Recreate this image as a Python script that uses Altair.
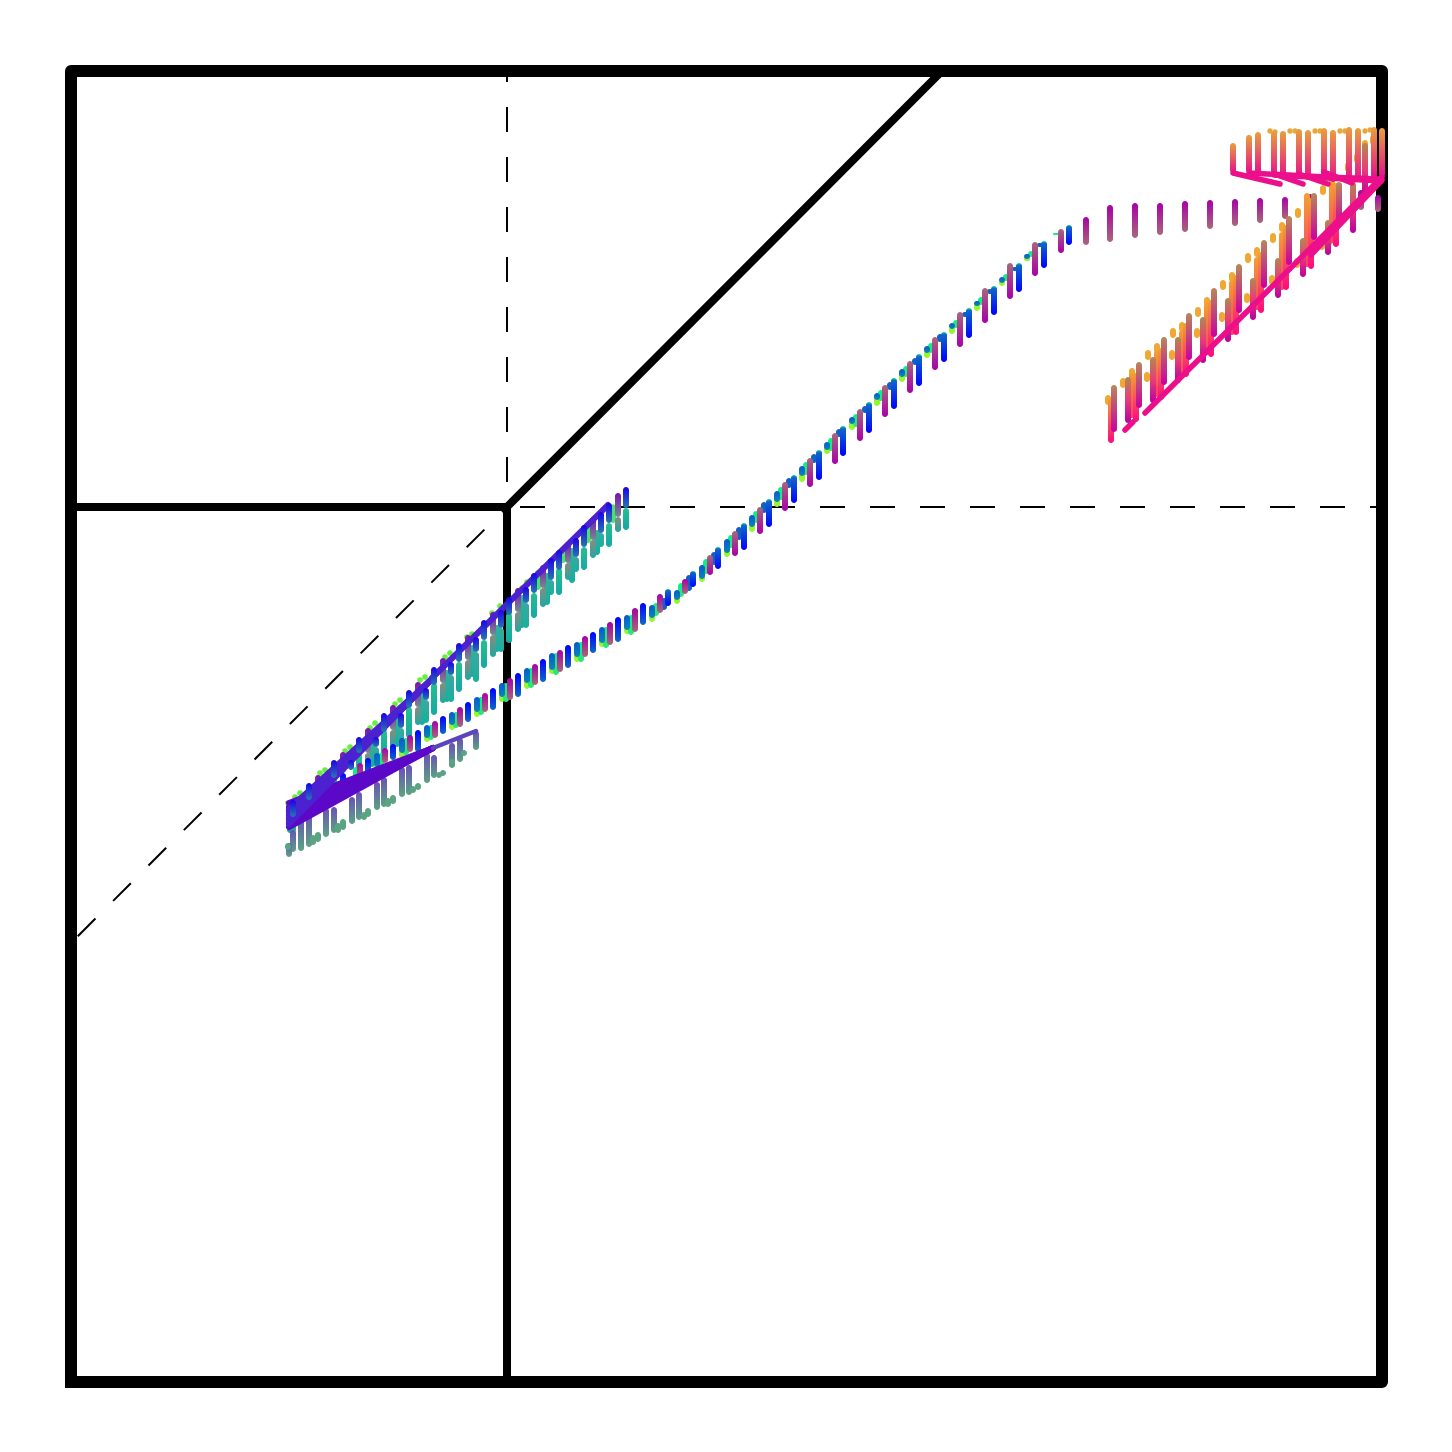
import altair as alt
import pandas as pd

SIDE = 1311
# ---------- middle curve ----------
blue_x = [998,973,948,923,898,873,848,823,798,772,748,723,698,673,647,622,597]
blue_top = [1157,1141,1119,1096,1074,1050,1028,1004,980,956,932,907,883,859,835,811,793]
blue_bot = [1137,1114,1090,1067,1044,1020,996,973,949,926,902,879,855,832,813,795,776]
blue2_x = [572,547,522,497,472,447,422,397,372,347,322,297,272,247]
blue2_top = [779,765,750,737,723,709,694,680,666,652,638,624,609,596]
blue2_bot = [757,740,729,714,700,685,672,660,648,630,622,609,594,580]
pur_x = [990,964,939,914,889,864,839,814,789,764,739,714,689,664,639]
pur_top = [1153,1140,1119,1094,1070,1045,1021,997,973,949,924,900,875,851,827]
pur_bot = [1129,1106,1083,1059,1035,1012,989,965,941,918,895,871,848,826,807]
pur2_x = [1307,1290,1265,1239,1214,1189,1164,1139,1114,1089,1064,1039,1015,614,589,564,539,514,489,464,439,414,389,364,339,314,289]
pur2_top = [1187,1192,1188,1188,1185,1184,1183,1182,1181,1179,1179,1177,1165,803,788,774,760,746,732,718,704,689,675,661,647,634,619]
pur2_bot = [1170,1172,1170,1166,1163,1159,1156,1153,1150,1147,1144,1140,1137,788,769,750,737,725,710,697,682,670,655,644,630,619,604]
green_x = [985,960,935,910,885,860,835,810,785,760,735,710,685,660,635,610,585,560,535,510,485,460,435,410,385,360,335,310,285]
green_top = [1149,1131,1108,1085,1062,1039,1016,992,968,944,920,895,871,847,823,799,779,767,755,740,729,714,699,685,670,657,644,629,615]
green_bot = [1147,1125,1101,1077,1054,1029,1005,981,955,931,907,882,859,834,808,785,766,747,734,720,707,694,680,667,654,642,627,614,602]
lime_x = [956,931,906,881,856,831,806,781,756,731,706,681,656,631,606,581,556,531,506,481,456,431,406,381,356,331,306]
lime_top = [1125,1102,1079,1056,1033,1010,986,962,938,912,888,863,838,813,790,775,765,752,738,725,712,697,683,668,655,642,627]
lime_bot = [1121,1096,1071,1048,1024,1000,976,952,928,900,875,850,825,800,778,760,748,735,720,708,693,680,665,652,640,624,610]
steel_x = [956,931,906,881,856,831,806,781,756,731,706,681,656,631,606,581,556,531,506,481,456,431,406,381,356,331,306]
steel_top = [1128,1105,1081,1059,1036,1013,989,965,940,916,891,867,843,817,792,777,767,755,740,729,714,699,685,670,657,644,629]
steel_bot = [1123,1099,1076,1053,1029,1005,982,958,932,906,880,855,829,803,782,764,752,739,725,712,699,685,670,657,644,629,615]
steel2_x = [969,944,919,894,869,844,819,794,768,743,718,693,668,643,618,593]
steel2_top = [1139,1115,1093,1070,1048,1024,1000,976,953,928,904,880,855,830,807,784]
steel2_bot = [1135,1111,1088,1065,1040,1017,992,969,945,919,894,869,842,817,791,772]
# ---------- upper left fan ----------
ub_x = [555,538,530,513,505,488,480,463,455,438,430,413,405,388,380,363,355,338,330,313,305,288,280,263,238,222]
ub_top = [895,879,870,857,844,832,824,809,795,785,772,762,745,739,720,715,694,692,669,669,645,645,622,622,599,582]
ub_bot = [874,859,849,835,825,812,802,789,779,767,754,742,730,720,707,697,682,674,654,650,635,629,612,604,582,565]
up_x = [547,522,497,472,447,422,397,372,347,322,297,272,247]
up_top = [889,865,840,817,794,770,747,724,700,677,654,630,607]
up_bot = [865,842,819,794,770,747,722,699,675,652,629,609,589]
t1_x = [555,538,513,488,463,438,413,388,363,338,313,288,263,238,222,219]
t1_top = [874,859,835,814,789,769,742,720,699,675,652,629,605,582,565,562]
t1_bot = [852,835,812,787,764,739,714,690,667,644,627,609,585,565,549,549]
t2_x = [547,522,497,472,447,422,397,372,347,322,297]
t2_top = [865,842,819,794,770,747,722,699,675,652,629]
t2_bot = [850,824,802,775,750,725,702,679,657,635,612]
t3_x = [530,505,480,455,430,405,380,355,330,305]
t3_top = [849,825,802,779,754,730,707,682,654,635]
t3_bot = [835,810,787,754,730,700,680,659,635,619]
t4_x = [526,501,476,451,426,401,376,351,326,301]
t4_top = [852,834,809,787,757,737,712,690,665,642]
t4_bot = [827,799,777,754,730,705,680,657,635,615]
ul_x = [542,517,492,467]
ul_top = [877,859,834,812]
ul_bot = [859,839,819,792]
ug_x = [542,456,451,429,421,401,396,379,374,354,349,329,324,304,299,279,274,254,249,229,224,217]
ug_y = [875,800,794,776,769,748,745,729,725,705,702,682,678,659,654,635,631,612,609,589,585,579]
# ---------- lower left fan ----------
low_x = [405,389,381,363,356,338,331,313,306,288,281,263,255,238,230,222,218]
low_top = [651,644,639,627,629,617,615,605,600,590,585,575,574,569,567,552,539]
low_bot = [632,620,614,604,599,587,585,575,572,562,558,549,545,535,531,530,525]
lows_x = [393,381,372,368,347,342,322,317,297,293,272,267,247,242,217]
lows_top = [632,623,612,610,599,596,587,584,574,570,563,559,550,547,539]
lows_bot = [626,617,606,604,592,589,578,575,565,562,552,549,540,537,532]
# ---------- upper right ----------
a_x = [1043,1068,1093,1118,1143,1168,1193,1218,1243,1268]
a_top = [997,1020,1045,1069,1094,1118,1142,1166,1189,1200]
a_bot = [950,974,997,1022,1045,1069,1094,1117,1142,1155]
b_x = [1040,1065,1090,1115,1140,1165,1190,1215,1240,1265]
b_top = [984,1009,1034,1059,1082,1107,1130,1157,1184,1199]
b_bot = [939,960,982,1005,1025,1047,1069,1092,1113,1135]
c_x = [1057,1082,1107,1132,1157,1182,1207,1232,1257,1282,1294]
c_top = [1005,1025,1045,1065,1084,1104,1124,1144,1162,1200,1239]
c_bot = [959,979,999,1019,1040,1062,1084,1105,1127,1149,1185]
d_x = [1061,1086,1111,1136,1161,1186,1211,1236,1261]
d_top = [1009,1032,1052,1079,1102,1125,1150,1189,1199]
d_bot = [964,985,1004,1027,1047,1072,1092,1115,1139]
top_x = [1162,1178,1187,1203,1212,1228,1237,1253,1262,1278,1287,1303,1311]
top_top = [1239,1247,1250,1251,1251,1253,1252,1254,1252,1255,1254,1255,1254]
top_bot = [1209,1209,1208,1205,1204,1204,1202,1201,1200,1201,1200,1204,1205]
od1_x = [1037,1052,1061,1077,1086,1102,1111,1127,1136,1152,1161,1177,1186,1202,1211,1227,1236,1252,1261,1277,1286,1294,1302]
od1_top = [987,1004,1014,1032,1039,1054,1060,1075,1085,1102,1110,1129,1135,1149,1160,1174,1180,1197,1204,1220,1229,1242,1247]
od1_bot = [977,994,1004,1022,1029,1044,1050,1065,1075,1092,1100,1119,1125,1139,1150,1164,1170,1187,1194,1210,1219,1232,1237]
od2_x = [1076,1084,1101,1109,1126,1134,1151,1159,1176,1184,1201,1209,1226,1234,1251,1259]
od2_top = [1010,1017,1032,1040,1054,1060,1070,1077,1089,1095,1107,1114,1124,1130,1142,1147]
od2_bot = [1000,1007,1022,1030,1044,1050,1060,1067,1079,1085,1097,1104,1114,1120,1132,1137]
od3_x = [1178,1199,1204,1219,1224,1244,1249,1269,1274,1294,1299]
od3_y = [1244,1251,1250,1251,1251,1251,1251,1251,1251,1251,1252]
# diagonal strokes: x0, y0, x1, y1
low_fan = [[218,555,362,634],[218,559,362,634],[218,563,362,634],[218,567,362,634],
           [218,571,362,634],[218,575,362,634],[218,579,362,634]]
low_tail = [[362,634,405,651]]
up_fan = [[218,558,361,703],[218,561,361,703],[218,564,361,703],[218,567,361,703],
          [218,570,361,703],[218,573,361,703],[361,704,537,877]]
pink_fan = [[1162,1209,1209,1198],[1203,1208,1232,1198],[1228,1208,1257,1198],[1253,1210,1281,1199],
            [1178,1209,1310,1202],[1203,1207,1310,1201],[1253,1205,1310,1203],
            [1311,1205,1074,969],[1311,1202,1240,1127],[1062,960,1054,952]]

X = alt.Scale(domain=[0, SIDE], nice=False, zero=False, padding=0)
Y = alt.Scale(domain=[0, SIDE], nice=False, zero=False, padding=0)
BAR = 6

def grad(*stops):
    n = len(stops)
    if isinstance(stops[0], tuple):
        st = [alt.GradientStop(offset=o, color=c) for o, c in stops]
    else:
        st = [alt.GradientStop(offset=i / (n - 1), color=c) for i, c in enumerate(stops)]
    return alt.LinearGradient(gradient="linear", stops=st, x1=0, x2=0, y1=0, y2=1)

def bars(xs, tops, bots, fill):
    df = pd.DataFrame({"x": xs, "y": tops, "y2": bots})
    return alt.Chart(df).mark_bar(size=BAR, cornerRadius=BAR / 2, fill=fill).encode(
        x=alt.X("x:Q", scale=X, axis=None), y=alt.Y("y:Q", scale=Y, axis=None), y2="y2:Q")

def dots(xs, ys, color, size=18):
    df = pd.DataFrame({"x": xs, "y": ys})
    return alt.Chart(df).mark_circle(size=size, color=color, opacity=1).encode(
        x=alt.X("x:Q", scale=X, axis=None), y=alt.Y("y:Q", scale=Y, axis=None))

def path(xs, ys, width, dash=None, offset=0, cap="butt"):
    df = pd.DataFrame({"x": xs, "y": ys, "i": range(len(xs))})
    kw = dict(color="#000000", strokeWidth=width, strokeJoin="round", strokeCap=cap)
    if dash:
        kw.update(strokeDash=dash, strokeDashOffset=offset)
    return alt.Chart(df).mark_line(**kw).encode(
        x=alt.X("x:Q", scale=X, axis=None), y=alt.Y("y:Q", scale=Y, axis=None), order="i:Q")

def fan(rows, color, width=6):
    df = pd.DataFrame(rows, columns=["x", "y", "x2", "y2"])
    return alt.Chart(df).mark_rule(color=color, strokeWidth=width, strokeCap="round").encode(
        x=alt.X("x:Q", scale=X, axis=None), y=alt.Y("y:Q", scale=Y, axis=None), x2="x2:Q", y2="y2:Q")

layers = [
    path([436, 436], [SIDE, 875], 2, [25, 25], 14),
    path([436, SIDE], [875, 875], 2, [25, 25], 37),
    path([436, 0], [875, 439], 2, [25, 25], 18),
    path([0, 436, 871], [875, 875, SIDE], 8),
    path([436, 436], [875, 0], 8),
    path([0, 0, SIDE, SIDE, 0], [0, SIDE, SIDE, 0, 0], 12, cap="square"),

    dots(ug_x, ug_y, "#66f03c", 32),
    bars(ul_x, ul_top, ul_bot, "#46e46e"),
    bars(t4_x, t4_top, t4_bot, grad("#2cb898", "#14aca4")),
    bars(t1_x, t1_top, t1_bot, grad("#24c090", "#14a8a4")),
    bars(t3_x, t3_top, t3_bot, grad("#3aa8a0", "#18b09c")),
    bars(t2_x, t2_top, t2_bot, grad("#8a8a80", "#20a8a0")),
    bars(low_x, low_top, low_bot, grad("#6a50b8", "#5aa482")),
    bars(lows_x, lows_top, lows_bot, "#5aa482"),

    bars(lime_x, lime_top, lime_bot, "#94f82c"),
    bars(green_x, green_top, green_bot, grad("#00f48c", "#30e478")),
    bars(steel_x, steel_top, steel_bot, grad("#0858d0", "#0a88b8")),
    bars(steel2_x, steel2_top, steel2_bot, "#1060c8"),
    bars(pur_x, pur_top, pur_bot, grad("#a8687a", "#a800a8")),
    bars(pur2_x, pur2_top, pur2_bot, grad("#a800a8", "#a8687a")),
    bars(blue_x, blue_top, blue_bot, grad((0, "#00e890"), (0.08, "#1068c8"), (1, "#0000ff"))),
    bars(blue2_x, blue2_top, blue2_bot, grad("#0000ff", "#1068c8")),

    fan(low_fan, "#5c08c8"),
    fan(low_tail, "#5c44bc", 4.5),
    bars(up_x, up_top, up_bot, grad("#7a10b0", "#7a8890")),
    fan(up_fan, "#4c22d0"),
    bars(ub_x, ub_top, ub_bot, grad("#1c00e8", "#2878b0")),

    bars(od1_x, od1_top, od1_bot, "#f0a832"),
    bars(od2_x, od2_top, od2_bot, "#f0a832"),
    dots(od3_x, od3_y, "#e8a83c", 28),
    bars(d_x, d_top, d_bot, grad("#f4a030", "#f83c70")),
    bars(c_x, c_top, c_bot, grad("#b08a50", "#e83c78", "#b800a0")),
    bars(b_x, b_top, b_bot, grad("#f4a030", "#ff0880")),
    bars(a_x, a_top, a_bot, grad("#b8885a", "#c800a0")),
    bars(top_x, top_top, top_bot, grad("#e8a03c", "#e6108c")),
    fan(pink_fan, "#ec0f8c", 5.5),
]

chart = alt.layer(*layers).properties(
    width=SIDE, height=SIDE,
    padding={"left": 54, "top": 54, "right": 30, "bottom": 30},
).configure_view(strokeWidth=0)

chart.save("out.html", embed_options={"renderer": "svg", "actions": False})
